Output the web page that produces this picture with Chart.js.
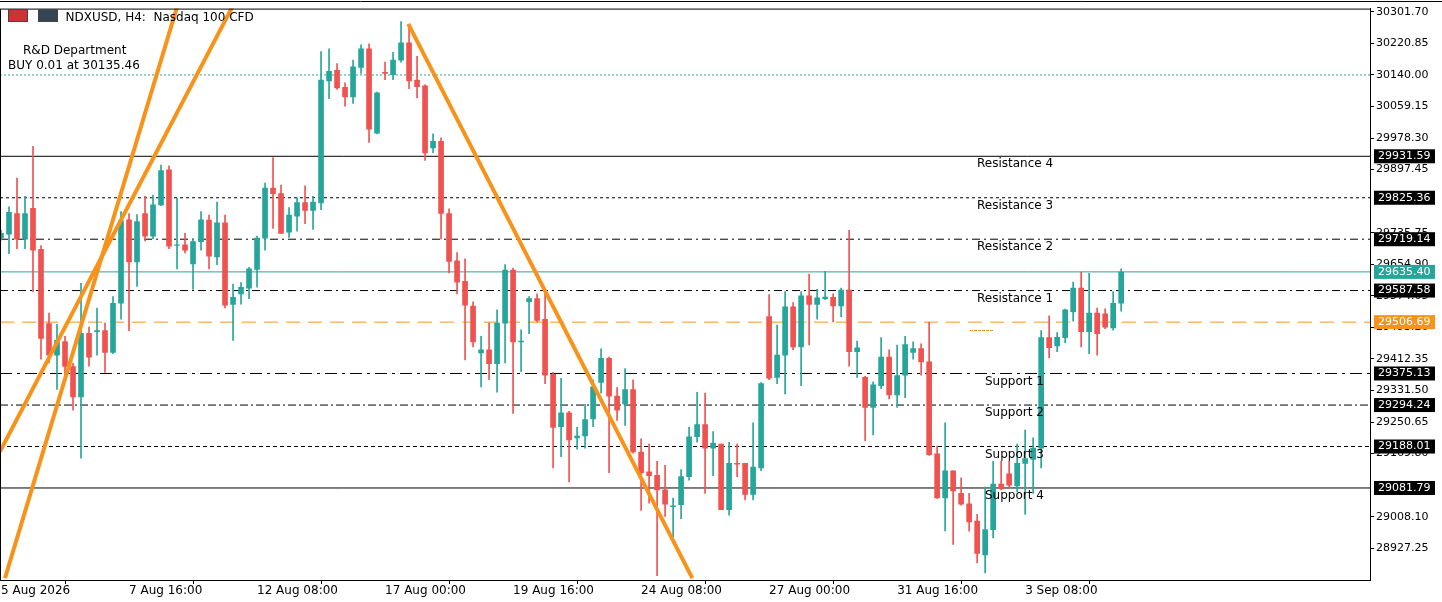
<!DOCTYPE html>
<html>
<head>
<meta charset="utf-8">
<script src="https://cdn.jsdelivr.net/npm/chart.js@4.4.1/dist/chart.umd.min.js"></script>
<style>
  html, body { margin: 0; padding: 0; background: #fff; }
  #wrap { position: relative; width: 1442px; height: 602px; }
  .txt { position: absolute; font: 12px "DejaVu Sans", sans-serif; color: #000; white-space: nowrap; }
</style>
</head>
<body>
<div id="wrap">
  <canvas id="c" width="1442" height="602"></canvas>
  <div class="txt" style="left:8px;top:9px;">
    <span style="display:inline-block;width:18px;height:11px;background:#c33;border:1px solid #444;vertical-align:-1px"></span>
    <span style="display:inline-block;width:18px;height:11px;background:#345;border:1px solid #444;margin-left:6px;vertical-align:-1px"></span>
    &nbsp;NDXUSD, H4:&nbsp; Nasdaq 100 CFD</div>
  <div class="txt" style="left:23px;top:43px;">R&amp;D Department</div>
  <div class="txt" style="left:8px;top:58px;">BUY 0.01 at 30135.46</div>
</div>
<script>
// candles, oldest first (H4 bars)
const opens  = [29722,29732,29785,29719,29798,29693,29503,29422,29457,29393,29315,29478,29482,29485,29429,29555,29769,29661,29785,29727,
  29807,29897,29703,29705,29656,29713,29768,29674,29761,29552,29579,29594,29642,29722,29850,29836,29737,29778,29813,29793,
  29812,30125,30152,30108,30084,30159,30207,29991,30147,30141,30178,30222,30127,30112,29953,29970,29785,29664,29611,29548,
  29428,29436,29400,29504,29640,29456,29559,29567,29514,29373,29239,29274,29210,29215,29259,29352,29414,29317,29297,29334,
  29174,29123,29114,29077,29034,29039,29111,29213,29244,29184,29194,29026,29145,29145,29065,29133,29521,29365,29422,29546,
  29443,29574,29552,29567,29570,29548,29589,29431,29365,29288,29344,29417,29320,29371,29429,29439,29405,29169,29056,29126,
  29068,29041,28997,28910,28975,29092,29118,29087,29145,29155,29184,29467,29446,29467,29533,29594,29482,29530,29528,29492,29555];
const highs  = [29742,29802,29876,29829,29957,29703,29530,29501,29470,29402,29606,29494,29543,29504,29572,29790,29785,29782,29829,29832,
  29909,29907,29824,29734,29720,29790,29781,29814,29781,29604,29608,29647,29727,29863,29928,29858,29800,29826,29856,29829,
  30200,30207,30169,30120,30178,30217,30220,30096,30173,30198,30277,30270,30188,30115,29989,29979,29797,29685,29669,29559,
  29470,29504,29538,29654,29645,29487,29572,29579,29582,29378,29363,29278,29237,29296,29359,29438,29417,29339,29388,29359,
  29208,29194,29150,29140,29056,29129,29237,29327,29325,29226,29194,29199,29194,29145,29249,29352,29577,29499,29585,29557,
  29585,29630,29591,29637,29579,29594,29742,29458,29368,29354,29467,29436,29448,29470,29456,29451,29506,29189,29249,29126,
  29108,29068,29014,29084,29150,29150,29150,29194,29230,29210,29485,29523,29480,29540,29609,29635,29632,29543,29541,29585,29643];
const lows   = [29717,29682,29695,29695,29585,29412,29402,29334,29354,29281,29158,29394,29422,29378,29426,29514,29485,29598,29715,29720,
  29805,29695,29643,29684,29591,29691,29643,29654,29543,29460,29553,29567,29596,29691,29747,29734,29724,29740,29759,29744,
  29795,30079,30103,30060,30067,30144,29967,29989,30128,30128,30173,30105,30081,29921,29941,29720,29633,29579,29410,29443,
  29341,29359,29327,29402,29273,29380,29477,29507,29349,29133,29162,29097,29181,29184,29239,29325,29121,29255,29242,29171,
  29024,29043,28857,29009,28956,29003,29102,29199,29068,29113,29026,29012,29111,29051,29051,29126,29359,29349,29323,29436,
  29344,29448,29514,29564,29507,29521,29394,29365,29203,29218,29336,29310,29288,29313,29412,29371,29165,29055,28972,28937,
  29038,28971,28890,28864,28954,29077,29082,29072,29014,29068,29133,29415,29431,29454,29509,29443,29426,29422,29490,29486,29535];
const closes = [29734,29788,29719,29785,29691,29465,29422,29460,29393,29315,29478,29417,29485,29429,29555,29766,29661,29764,29727,29807,
  29895,29701,29705,29691,29713,29769,29676,29761,29550,29570,29596,29643,29722,29850,29836,29734,29781,29813,29793,29814,
  30127,30149,30107,30084,30161,30207,30001,30094,30144,30178,30222,30125,30110,29940,29970,29785,29662,29609,29550,29456,
  29436,29400,29504,29640,29456,29458,29567,29511,29371,29237,29274,29205,29215,29257,29341,29414,29317,29281,29334,29174,
  29121,29113,29077,29040,29036,29111,29213,29244,29184,29196,29026,29145,29143,29065,29135,29349,29363,29422,29546,29443,
  29574,29552,29569,29571,29548,29589,29431,29441,29288,29346,29417,29320,29370,29449,29439,29405,29167,29056,29126,29074,
  29040,28995,28914,28975,29092,29080,29089,29145,29157,29184,29467,29441,29468,29538,29594,29482,29530,29477,29494,29555,29635];

// date labels every 16 bars
const dateTickIdx = [0, 16, 32, 48, 64, 80, 96, 112, 128];
const dateLabels = ['5 Aug 2026', '7 Aug 16:00', '12 Aug 08:00', '17 Aug 00:00', '19 Aug 16:00',
  '24 Aug 08:00', '27 Aug 00:00', '31 Aug 16:00', '3 Sep 08:00'];
const priceTicks = [30301.70, 30220.85, 30140.00, 30059.15, 29978.30, 29897.45, 29735.75, 29654.90,
  29574.05, 29493.20, 29412.35, 29331.50, 29250.65, 29169.80, 29008.10, 28927.25];

// support / resistance levels
const levelNames = ['Resistance 4', 'Resistance 3', 'Resistance 2', 'Resistance 1', 'Support 1', 'Support 2', 'Support 3', 'Support 4'];
const levelPrices = [29931.59, 29825.36, 29719.14, 29587.58, 29375.13, 29294.24, 29188.01, 29081.79];
const levelDash = [[], [3, 3], [8, 4, 2, 4], [8, 4, 2, 4], [12, 5, 3, 5], [8, 3, 2, 3], [4, 3], []];
const bidPrice = 29635.40;
const entryPrice = 29506.69;
const buyPrice = 30140.00;

// trendlines [x0, p0, x1, p1]
const trendLines = [[0.5, 28851, 22, 30314], [-0.125, 29175, 28.9, 30314], [50.9, 30271, 86.4, 28851]];

const UP = '#26a69a', DOWN = '#ef5350', ORANGE = '#f7931a';
const XMIN = -0.125, XMAX = 171.1;

const colors = opens.map((o, i) => closes[i] >= o ? UP : DOWN);
const wicks = highs.map((h, i) => ({ x: i, y: [lows[i], h] }));
const bodies = opens.map((o, i) => {
  let lo = Math.min(o, closes[i]), hi = Math.max(o, closes[i]);
  if (hi - lo < 2) { lo -= 1; hi += 1; }
  return { x: i, y: [lo, hi] };
});

function hline(p, color, dash, width) {
  return {
    type: 'line', data: [{ x: XMIN, y: p }, { x: XMAX, y: p }],
    borderColor: color, borderWidth: width || 1, borderDash: dash, pointRadius: 0, order: 5,
  };
}

const datasets = [];
levelPrices.forEach((p, i) => datasets.push(hline(p, '#000', levelDash[i])));
datasets.push(hline(bidPrice, UP, []));
datasets.push(hline(entryPrice, ORANGE, [14, 8]));
datasets.push(hline(buyPrice, UP, [2, 2]));
datasets.push({ type: 'bar', data: wicks, backgroundColor: colors, barThickness: 1, grouped: false, order: 3 });
datasets.push({ type: 'bar', data: bodies, backgroundColor: colors, barThickness: 5, grouped: false, order: 2 });
trendLines.forEach(t => datasets.push({
  type: 'line', data: [{ x: t[0], y: t[1] }, { x: t[2], y: t[3] }],
  borderColor: ORANGE, borderWidth: 4, pointRadius: 0, order: 1,
}));

const labelsPlugin = {
  id: 'levelLabels',
  afterDraw(chart) {
    const { ctx, chartArea: a, scales: { y } } = chart;
    ctx.save();
    ctx.strokeStyle = '#000';
    ctx.lineWidth = 1;
    ctx.strokeRect(a.left + 0.5, a.top + 0.5, a.right - a.left, a.bottom - a.top);
    ctx.beginPath(); ctx.moveTo(0, 1.5); ctx.lineTo(1442, 1.5); ctx.stroke();
    ctx.font = '12px "DejaVu Sans", sans-serif';
    ctx.textBaseline = 'middle';
    ctx.fillStyle = '#000';
    levelNames.forEach((n, i) => {
      const py = y.getPixelForValue(levelPrices[i]);
      ctx.fillText(n, i < 4 ? 977 : 985, py + 8);
    });
    ctx.strokeStyle = ORANGE;
    ctx.setLineDash([3, 1]);
    ctx.beginPath(); ctx.moveTo(970, 330.5); ctx.lineTo(993, 330.5); ctx.stroke();
    ctx.setLineDash([]);
    ctx.font = '11px "DejaVu Sans", sans-serif';
    const boxes = levelPrices.map(p => [p, '#000']).concat([[bidPrice, UP], [entryPrice, ORANGE]]);
    boxes.forEach(([p, c]) => {
      const py = y.getPixelForValue(p);
      ctx.fillStyle = c;
      ctx.fillRect(a.right + 4, py - 7, 61, 14);
      ctx.fillStyle = '#fff';
      ctx.fillText(p.toFixed(2), a.right + 8, py);
    });
    ctx.restore();
  }
};

new Chart(document.getElementById('c'), {
  data: { datasets },
  options: {
    responsive: false,
    animation: false,
    layout: { padding: { left: 0, top: 3, right: 0, bottom: 0 } },
    plugins: { legend: { display: false }, tooltip: { enabled: false } },
    scales: {
      x: {
        type: 'linear', min: XMIN, max: XMAX, offset: false,
        afterBuildTicks: s => { s.ticks = dateTickIdx.map(v => ({ value: v })); },
        afterFit: s => { s.height = 22; },
        ticks: {
          align: 'start', maxRotation: 0, autoSkip: false, padding: 0, color: '#000',
          font: { family: 'DejaVu Sans', size: 12 },
          callback: v => dateLabels[dateTickIdx.indexOf(v)] || '',
        },
        grid: { drawOnChartArea: false, drawTicks: true, tickLength: 4, color: '#000' },
        border: { color: '#000' },
      },
      y: {
        position: 'right', min: 28846, max: 30310,
        afterBuildTicks: s => { s.ticks = priceTicks.map(v => ({ value: v })); },
        afterFit: s => { s.width = 72; },
        ticks: {
          padding: 2, color: '#000', autoSkip: false,
          font: { family: 'DejaVu Sans', size: 11 },
          callback: v => v.toFixed(2),
        },
        grid: { drawOnChartArea: false, drawTicks: true, tickLength: 4, color: '#000' },
        border: { color: '#000' },
      },
    },
  },
  plugins: [labelsPlugin],
});
</script>
</body>
</html>
